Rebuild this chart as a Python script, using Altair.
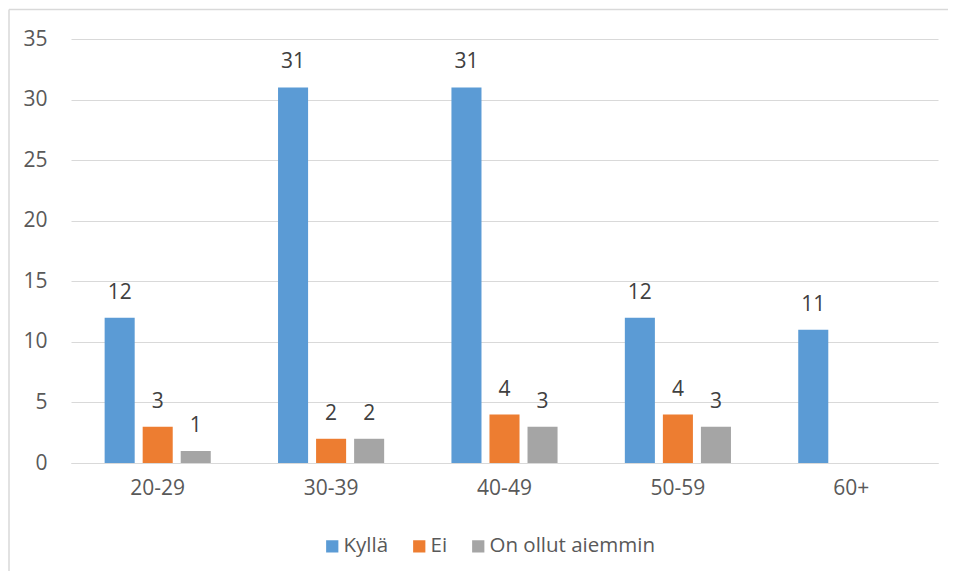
import altair as alt
import pandas as pd

categories = ["20-29", "30-39", "40-49", "50-59", "60+"]
series = ["Kyllä", "Ei", "On ollut aiemmin"]
kylla = [12, 31, 31, 12, 11]
ei = [3, 2, 4, 4, None]
aiemmin = [1, 2, 3, 3, None]
colors = ["#5B9BD5", "#ED7D31", "#A5A5A5"]
y_ticks = [0, 5, 10, 15, 20, 25, 30, 35]

rows = []
for s, vals in zip(series, [kylla, ei, aiemmin]):
    for c, v in zip(categories, vals):
        if v is not None:
            rows.append({"ika": c, "sarja": s, "arvo": v})
df = pd.DataFrame(rows)

FONT = "Open Sans"

x_enc = alt.X(
    "ika:N",
    sort=categories,
    scale=alt.Scale(paddingInner=0.388, paddingOuter=0.194),
    axis=alt.Axis(
        title=None, labelAngle=0, ticks=False, grid=False,
        domainColor="#D9D9D9", domainWidth=1,
        labelPadding=14, labelFontSize=21, labelColor="#595959", labelFont=FONT,
    ),
)
xoff_enc = alt.XOffset(
    "sarja:N", sort=series,
    scale=alt.Scale(domain=series, paddingInner=0.21, paddingOuter=0),
)
y_enc = alt.Y(
    "arvo:Q",
    scale=alt.Scale(domain=[0, 35]),
    axis=alt.Axis(
        title=None, values=y_ticks, domain=False, ticks=False,
        gridColor="#D9D9D9", gridWidth=1,
        labelPadding=24, labelFontSize=21, labelColor="#595959", labelFont=FONT,
    ),
)

base = alt.Chart(df)

bars = base.mark_bar().encode(
    x=x_enc,
    xOffset=xoff_enc,
    y=y_enc,
    color=alt.Color(
        "sarja:N",
        scale=alt.Scale(domain=series, range=colors),
        legend=alt.Legend(
            title=None, orient="none", legendX=251, legendY=497,
            direction="horizontal", symbolType="square", symbolSize=150,
            symbolStrokeWidth=0, labelFontSize=20.5, labelColor="#595959",
            labelFont=FONT, columnPadding=20, labelOffset=1, padding=0,
            labelLimit=400,
        ),
    ),
)

labels = base.mark_text(
    dy=-19, baseline="alphabetic", fontSize=21, color="#404040", font=FONT
).encode(
    x=x_enc,
    xOffset=xoff_enc,
    y=y_enc,
    text="arvo:Q",
)

border_data = alt.Data(values=[{"k": 1}])
left_border = alt.Chart(border_data).mark_rule(color="#D9D9D9", strokeWidth=1.5).encode(
    x=alt.value(-62), y=alt.value(-29.5), y2=alt.value(600)
)
top_border = alt.Chart(border_data).mark_rule(color="#D9D9D9", strokeWidth=1.5).encode(
    x=alt.value(-62), x2=alt.value(1000), y=alt.value(-29.5)
)

chart = alt.layer(left_border, top_border, bars, labels).properties(
    width=867,
    height=424,
    autosize=alt.AutoSizeParams(type="none"),
    padding={"left": 63, "top": 31, "right": 10, "bottom": 108},
).configure(font=FONT, view=alt.ViewConfig(stroke=None))

chart.save("out.html", embed_options={"renderer": "svg", "actions": False})
